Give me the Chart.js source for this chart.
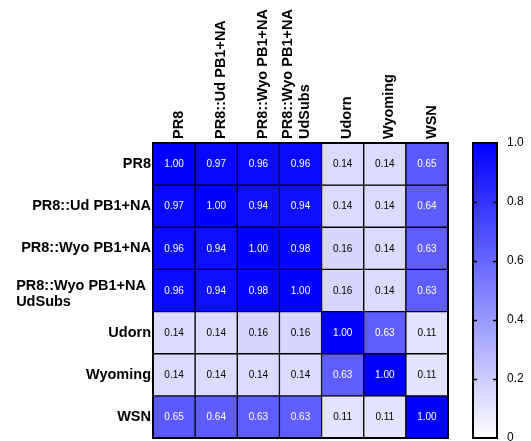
<!DOCTYPE html>
<html>
<head>
<meta charset="utf-8">
<script src="https://cdn.jsdelivr.net/npm/chart.js@4/dist/chart.umd.min.js"></script>
<style>
  html, body { margin: 0; padding: 0; background: #fff; }
  canvas { display: block; }
</style>
</head>
<body>
<canvas id="heat" width="531" height="441"></canvas>
<script>
// Strains compared (rows and columns share the same order)
const strains = ['PR8', 'PR8::Ud PB1+NA', 'PR8::Wyo PB1+NA', ['PR8::Wyo PB1+NA', 'UdSubs'], 'Udorn', 'Wyoming', 'WSN'];

// Pairwise similarity, one array per row
const pr8      = [1.00, 0.97, 0.96, 0.96, 0.14, 0.14, 0.65];
const pr8Ud    = [0.97, 1.00, 0.94, 0.94, 0.14, 0.14, 0.64];
const pr8Wyo   = [0.96, 0.94, 1.00, 0.98, 0.16, 0.14, 0.63];
const pr8WyoUd = [0.96, 0.94, 0.98, 1.00, 0.16, 0.14, 0.63];
const udorn    = [0.14, 0.14, 0.16, 0.16, 1.00, 0.63, 0.11];
const wyoming  = [0.14, 0.14, 0.14, 0.14, 0.63, 1.00, 0.11];
const wsn      = [0.65, 0.64, 0.63, 0.63, 0.11, 0.11, 1.00];
const rows = [pr8, pr8Ud, pr8Wyo, pr8WyoUd, udorn, wyoming, wsn];

// Colour scale ticks
const scaleTicks = [0, 0.2, 0.4, 0.6, 0.8, 1.0];

const FONT = '"Liberation Sans", Arial, Helvetica, sans-serif';
const LABEL_FONT = { family: FONT, size: 14.5, weight: 'bold', lineHeight: 1.2 };

function shade(v) {
  const c = Math.round(255 * (1 - v));
  return `rgb(${c},${c},255)`;
}

// vertical axes: let the plot run right to the frame edges
function noEdgePadding(s) {
  s.paddingTop = 0;
  s.paddingBottom = 0;
}

// One floating-bar dataset per row; each bar spans one row band
const datasets = rows.map((vals, r) => ({
  label: Array.isArray(strains[r]) ? strains[r].join(' ') : strains[r],
  values: vals,
  data: vals.map(() => [r, r + 1]),
  yAxisID: 'y',
  grouped: false,
  barPercentage: 1,
  categoryPercentage: 1,
  borderWidth: 1,
  borderColor: '#000',
  borderSkipped: false,
  backgroundColor: ctx => shade(ctx.dataset.values[ctx.dataIndex])
}));

// Cell values, outer frame, the colour bar and the wrapped row label
const heatExtras = {
  id: 'heatExtras',
  afterDatasetsDraw(chart) {
    const { ctx, chartArea } = chart;
    ctx.save();
    ctx.font = `10px ${FONT}`;
    ctx.textAlign = 'center';
    ctx.textBaseline = 'middle';
    chart.data.datasets.forEach((ds, i) => {
      chart.getDatasetMeta(i).data.forEach((el, j) => {
        const v = ds.values[j];
        const p = el.getCenterPoint();
        ctx.fillStyle = v >= 0.5 ? '#fff' : '#000';
        ctx.fillText(v.toFixed(2), p.x, p.y + 0.5);
      });
    });
    ctx.strokeStyle = '#000';
    ctx.lineWidth = 2;
    ctx.strokeRect(chartArea.left, chartArea.top, chartArea.right - chartArea.left, chartArea.bottom - chartArea.top);

    // colour bar
    const cb = chart.scales.cb;
    const x0 = chartArea.right + 25, w = 24;
    const yTop = cb.getPixelForValue(1), yBot = cb.getPixelForValue(0);
    const g = ctx.createLinearGradient(0, yTop, 0, yBot);
    g.addColorStop(0, shade(1));
    g.addColorStop(1, shade(0));
    ctx.fillStyle = g;
    ctx.fillRect(x0, yTop, w, yBot - yTop);
    ctx.lineWidth = 2;
    ctx.strokeRect(x0, yTop, w, yBot - yTop);
    ctx.lineWidth = 1.5;
    scaleTicks.forEach(t => {
      if (t === 0 || t === 1) return;
      const y = Math.round(cb.getPixelForValue(t)) + 0.5;
      ctx.beginPath();
      ctx.moveTo(x0, y); ctx.lineTo(x0 + 4, y);
      ctx.moveTo(x0 + w - 4, y); ctx.lineTo(x0 + w, y);
      ctx.stroke();
    });

    // wrapped row labels: left-aligned block ending near the axis
    const ys = chart.scales.y;
    ctx.font = `bold ${LABEL_FONT.size}px ${FONT}`;
    ctx.fillStyle = '#000';
    ctx.textAlign = 'left';
    strains.forEach((name, i) => {
      if (!Array.isArray(name)) return;
      const widest = Math.max(...name.map(t => ctx.measureText(t).width));
      const left = ys.right - 7 - widest;
      const mid = ys.getPixelForValue(i + 0.5) + 3;
      const lh = 16;
      name.forEach((t, k) => {
        ctx.fillText(t, left, mid + (k - (name.length - 1) / 2) * lh);
      });
    });
    ctx.restore();
  }
};

new Chart(document.getElementById('heat'), {
  type: 'bar',
  data: { labels: strains, datasets },
  options: {
    responsive: false,
    animation: false,
    layout: { autoPadding: false, padding: { left: 0, right: 0, top: 0, bottom: 3 } },
    plugins: { legend: { display: false }, tooltip: { enabled: false } },
    scales: {
      x: {
        type: 'category',
        position: 'top',
        offset: true,
        grid: { display: false, drawTicks: false },
        border: { display: false },
        ticks: {
          minRotation: 90, maxRotation: 90, autoSkip: false,
          color: '#000', padding: 4,
          labelOffset: ctx => (Array.isArray(strains[ctx.index]) ? 32 : 22),
          font: LABEL_FONT
        },
        afterFit: s => { s.height = 143; s.paddingLeft = 0; s.paddingRight = 0; }
      },
      y: {
        type: 'linear',
        position: 'left',
        min: 0, max: 7,
        reverse: true,
        grid: { display: false, drawTicks: false },
        border: { display: false },
        afterBuildTicks: s => { s.ticks = strains.map((_, i) => ({ value: i + 0.5 })); },
        ticks: {
          autoSkip: false, color: '#000', padding: 2,
          font: LABEL_FONT,
          // wrapped names are drawn by heatExtras
          callback: (v, i) => (Array.isArray(strains[i]) ? '' : strains[i])
        },
        afterFit: s => { s.width = 153; noEdgePadding(s); }
      },
      cb: {
        type: 'linear',
        position: 'right',
        min: 0, max: 1,
        grid: { drawOnChartArea: false, color: 'rgba(0,0,0,0)', tickLength: 55 },
        border: { display: false },
        afterBuildTicks: s => { s.ticks = scaleTicks.map(v => ({ value: v })); },
        ticks: {
          color: '#000', padding: 4,
          font: { family: FONT, size: 12 },
          callback: v => (v === 0 ? '0' : v.toFixed(1))
        },
        afterFit: s => { s.width = 83; noEdgePadding(s); }
      }
    }
  },
  plugins: [heatExtras]
});
</script>
</body>
</html>
